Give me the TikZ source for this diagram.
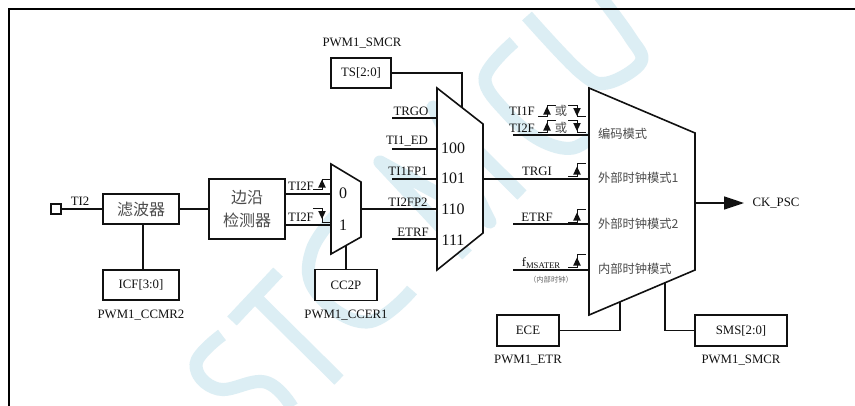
\documentclass[tikz,border=0pt]{standalone}
\usepackage{fontspec}
\setmainfont{Liberation Serif}
\newfontfamily\cjk{Noto Sans CJK SC}
\usetikzlibrary{arrows.meta}
\definecolor{wmark}{HTML}{DCEEF4}
\definecolor{inkc}{HTML}{111111}
\newcommand{\edgeup}[3]{%
  \draw[sym] (#1-9,#2)--(#1,#2)--(#1,#3)--(#1+9,#3);
  \fill[inkc] (#1-3.8,#2-1.5)--(#1+3.8,#2-1.5)--(#1,#2-9.5)--cycle;}
\newcommand{\edgedown}[3]{%
  \draw[sym] (#1-9,#3)--(#1,#3)--(#1,#2)--(#1+9,#2);
  \fill[inkc] (#1-3.8,#3+3)--(#1+3.8,#3+3)--(#1,#3+11)--cycle;}
\tikzset{
  wm/.style={draw=wmark,line width=9.8pt,line cap=butt,line join=round},
  wire/.style={draw=inkc,line width=1.1pt},
  sym/.style={draw=inkc,line width=0.7pt},
  muxshape/.style={draw=inkc,line width=1.2pt,fill=white,line join=miter},
  box/.style={draw=inkc,line width=1.2pt,fill=white,inner sep=0pt,outer sep=0pt,text=inkc,font=\fontsize{9.6pt}{11pt}\selectfont},
  lab/.style={inner sep=0pt,outer sep=0pt,text=inkc,font=\fontsize{9.6pt}{11pt}\selectfont},
  num/.style={inner sep=0pt,outer sep=0pt,text=inkc,font=\fontsize{12pt}{14pt}\selectfont},
  cj/.style={inner sep=0pt,outer sep=0pt,text=inkc!75,font=\cjk\fontsize{9.2pt}{11pt}\selectfont},
  cjbig/.style={inner sep=0pt,outer sep=0pt,text=inkc!75,font=\cjk\fontsize{12pt}{14pt}\selectfont},
}
\begin{document}
\begin{tikzpicture}[x=0.75pt,y=-0.75pt]
\useasboundingbox (0,0) rectangle (855,405);
\fill[white] (0,0) rectangle (855,405);
% watermark
\draw[wm] plot[smooth,tension=0.7] coordinates {(222,335)(196,364)(218,389)(265,382)(292,407)};
\draw[wm] (232,321)--(278,272);
\draw[wm] (255,297)--(339,380);
\draw[wm] plot[smooth,tension=0.7] coordinates {(345,205)(312,250)(317,293)(367,322)(412,290)};
\draw[wm] (467,255)--(380,162)--(490,222)--(433,107)--(522,195);
\draw[wm] plot[smooth,tension=0.6] coordinates {(514,42)(485,78)(507,113)(540,140)(573,148)(600,130)};
\draw[wm] plot[smooth,tension=0.6] coordinates {(527,16)(580,72)(607,83)(641,62)(630,37)(600,-4)};
% frame
\draw[draw=black,line width=2pt] (9,406)--(9,9)--(856,9);
% boxes
\node[box,minimum width=7.5pt,minimum height=7.5pt] (pin) at (56,209) {};
\node[box,minimum width=57pt,minimum height=22.5pt,text=inkc!75,font=\cjk\fontsize{12pt}{14pt}\selectfont] (filt) at (141,209) {滤波器};
\node[box,minimum width=57pt,minimum height=22.5pt] (icf) at (141,285) {ICF[3:0]};
\node[box,minimum width=57pt,minimum height=45pt] (edge) at (247,209) {};
\node[cjbig] (edgea) at (247,198) {边沿};
\node[cjbig] (edgeb) at (247,220) {检测器};
\node[box,minimum width=46.5pt,minimum height=23pt] (ccp) at (346,285) {CC2P};
\node[box,minimum width=45pt,minimum height=22.5pt] (ts) at (361,73) {TS[2:0]};
\node[box,minimum width=46.5pt,minimum height=23pt] (ece) at (528,330.5) {ECE};
\node[box,minimum width=69pt,minimum height=23pt] (sms) at (741,330.5) {SMS[2:0]};
% mux coordinates
\coordinate (ma0) at (331,194); \coordinate (ma1) at (331,225);
\coordinate (maout) at (361,209); \coordinate (mabot) at (346,245);
\coordinate (mbtop) at (462,108); \coordinate (mbout) at (483,179); \coordinate (mb2) at (437,209);
\coordinate (mctop) at (589,179); \coordinate (mcout) at (695,203);
\coordinate (mcb1) at (620,302); \coordinate (mcb2) at (665,283);
\coordinate (icfup) at (143,269); \coordinate (filtdown) at (143,224);
% control lines under the muxes
\draw[wire] (ts.east) -| (mbtop);
\draw[wire] (ccp.north -| mabot) -- (mabot);
\draw[wire] (ece.east) -| (mcb1);
\draw[wire] (sms.west) -| (mcb2);
% muxes
\draw[muxshape] (331,164)--(361,182)--(361,237)--(331,254)--cycle;
\draw[muxshape] (437,88)--(483,124)--(483,233)--(437,270)--cycle;
\draw[muxshape] (589,88)--(695,133)--(695,270)--(589,315)--cycle;
% wires
\draw[wire] (pin.east) -- (filt.west);
\draw[wire] (filtdown) -- (icfup);
\draw[wire] (filt.east) -- (edge.west);
\draw[wire] (edge.east |- ma0) -- (ma0);
\draw[wire] (edge.east |- ma1) -- (ma1);
\draw[wire] (maout) -- (mb2);
\coordinate (tg) at (392,118); \coordinate (te) at (392,149); \coordinate (tf) at (392,179); \coordinate (et) at (392,239);
\draw[wire] (tg) -- (tg -| mb2);
\draw[wire] (te) -- (te -| mb2);
\draw[wire] (tf) -- (tf -| mb2);
\draw[wire] (et) -- (et -| mb2);
\coordinate (c1) at (513,135); \coordinate (c3) at (513,224); \coordinate (c4) at (513,270);
\draw[wire] (c1) -- (c1 -| mctop);
\draw[wire] (mbout) -- (mctop);
\draw[wire] (c3) -- (c3 -| mctop);
\draw[wire] (c4) -- (c4 -| mctop);
\coordinate (ck) at (744,203);
\draw[wire,-{Triangle[length=15pt,width=9.8pt]}] (mcout) -- (ck);
% labels
\node[lab] (ti2) at (80,201) {TI2};
\node[lab] (l1) at (141,315) {PWM1\_CCMR2};
\node[lab] (l2) at (346,315) {PWM1\_CCER1};
\node[lab] (l3) at (362,43) {PWM1\_SMCR};
\node[lab] (l4) at (528,360) {PWM1\_ETR};
\node[lab] (l5) at (741,360) {PWM1\_SMCR};
\node[lab] (ckl) at (776,203) {CK\_PSC};
\node[lab] (e1) at (301,186) {TI2F};
\node[lab] (e2) at (301,217) {TI2F};
\node[num] (z0) at (343,193) {0};
\node[num] (z1) at (343,225) {1};
\node[lab] (b1) at (411,111) {TRGO};
\node[lab] (b2) at (407,141) {TI1\_ED};
\node[lab] (b3) at (408,171) {TI1FP1};
\node[lab] (b4) at (408,202) {TI2FP2};
\node[lab] (b5) at (413,232) {ETRF};
\node[num] (n0) at (453,148) {100};
\node[num] (n1) at (453,178) {101};
\node[num] (n2) at (453,209) {110};
\node[num] (n3) at (453,240) {111};
\node[lab] (c11) at (522,111) {TI1F};
\node[lab] (c12) at (522,128) {TI2F};
\node[cj] (oa) at (561,111) {或};
\node[cj] (ob) at (561,128) {或};
\node[lab] (c2l) at (537,171) {TRGI};
\node[lab] (c3l) at (537,217) {ETRF};
\node[lab] (c4l) at (541,263) {f\raisebox{-0.35ex}{\fontsize{6.5pt}{7pt}\selectfont MSATER}};
\node[inner sep=0pt,text=inkc!65,font=\cjk\fontsize{5.5pt}{6pt}\selectfont] (c4s) at (551,280) {（内部时钟）};
\node[cj,anchor=west] (m1) at (598,134) {编码模式};
\node[cj,anchor=west] (m2) at (598,178) {外部时钟模式1};
\node[cj,anchor=west] (m3) at (598,224) {外部时钟模式2};
\node[cj,anchor=west] (m4) at (598,269) {内部时钟模式};
% edge symbols
\edgeup{322}{189}{179}
\edgedown{322}{222}{208}
\edgeup{547}{116}{105}
\edgedown{577}{116}{105}
\edgeup{547}{132}{120}
\edgedown{577}{132}{120}
\edgeup{577}{176}{163}
\edgeup{577}{222}{209}
\edgeup{577}{267}{254}
\end{tikzpicture}
\end{document}
